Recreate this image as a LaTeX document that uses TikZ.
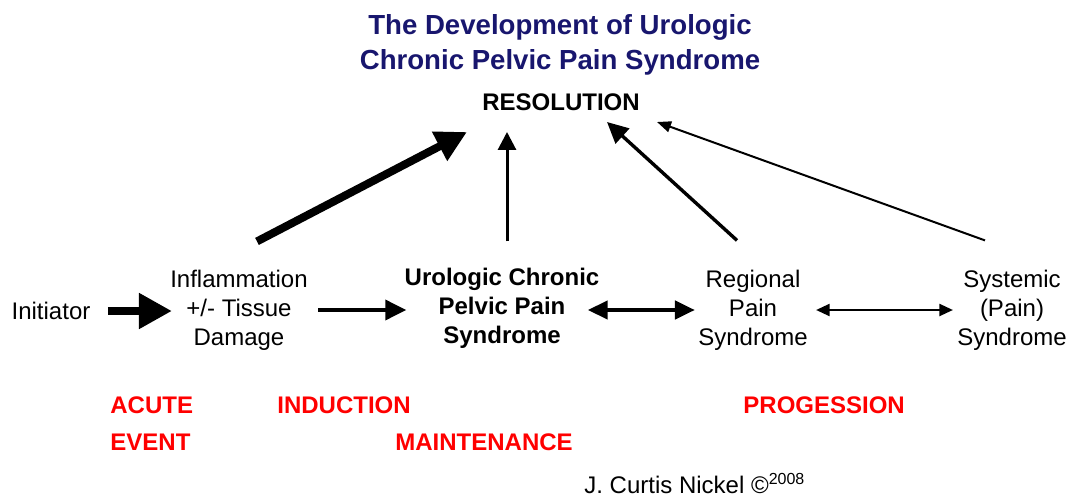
\documentclass[tikz,border=0pt]{standalone}
\usepackage{fontspec}
\setmainfont{Liberation Sans}
\usetikzlibrary{arrows.meta}
\definecolor{titleblue}{RGB}{24,22,110}
\newcommand*{\txtsize}[1][12]{\fontsize{#1}{14.5}\selectfont}

\begin{document}
\begin{tikzpicture}[x=0.5pt, y=-0.5pt]
        \useasboundingbox (0,0) rectangle (1069,497);

        \tikzstyle{heavyarrow}=[line width=4pt, -{Triangle[length=16.5pt, width=17pt]}]
        \tikzstyle{midarrow}=[line width=1.8pt, -{Triangle[length=10.5pt, width=10pt]}]
        \tikzstyle{thinarrow}=[line width=1pt, -{Triangle[length=6.75pt, width=6pt]}]

        \node [text=titleblue, align=center, font=\bfseries\fontsize{13.8}{17.5}\selectfont]
          (title) at (560,45) {The Development of Urologic\\Chronic Pelvic Pain Syndrome};
        \node [inner sep=0pt, font=\bfseries\txtsize] (res) at (561,102) {RESOLUTION};

        {\tikzstyle{every node}=[align=center, inner sep=0pt, font=\txtsize]
          \node (init) at (51,311) {Initiator};
          \node (infl) at (239,310) {Inflammation\\+/- Tissue\\Damage};
          \node [font=\bfseries\txtsize] (ucpps) at (502,308) {Urologic Chronic\\Pelvic Pain\\Syndrome};
          \node (regional) at (753,310) {Regional\\Pain\\Syndrome};
          \node (systemic) at (1012,310) {Systemic\\(Pain)\\Syndrome};
        }

        {\tikzstyle{every node}=[anchor=west, inner sep=0pt, text=red, font=\bfseries\txtsize]
          \node (acute) at (110,405) {ACUTE};
          \node (event) at (110,442) {EVENT};
          \node (induction) at (277,405) {INDUCTION};
          \node (maint) at (395,442) {MAINTENANCE};
          \node (progr) at (743,405) {PROGESSION};
        }

        \node [anchor=base west, inner sep=0pt, font=\txtsize] (author) at (584,493)
          {J. Curtis Nickel ©\textsuperscript{2008}};

        % ends of the arrows at RESOLUTION
        \coordinate (r0) at (467,132);
        \coordinate (r1) at (507,132);
        \coordinate (r2) at (607,122);
        \coordinate (r3) at (657,122);

        \draw [heavyarrow, shorten <=8.5pt, shorten >=-1pt] (init.east) -- (init.east -| infl.west);
        \draw [midarrow, shorten <=5pt, shorten >=-1pt] (infl.east) -- (infl.east -| ucpps.west);
        \draw [line width=2.2pt, {Triangle[length=10pt, width=9pt]}-{Triangle[length=10pt, width=9pt]},
          shorten <=-6pt, shorten >=1.5pt] (infl.east -| ucpps.east) -- (infl.east -| regional.west);
        \draw [thinarrow, {Triangle[length=6.75pt, width=6pt]}-{Triangle[length=6.75pt, width=6pt]},
          shorten <=4pt, shorten >=2pt] (regional.east) -- (systemic.west);

        \draw [heavyarrow, -{Triangle[length=15.5pt, width=15.5pt]}] ([shift={(18,-28)}]infl.north) -- (r0);
        \draw [midarrow, line width=1.5pt, -{Triangle[length=9pt, width=9pt]}] ([shift={(5,-26)}]ucpps.north) -- (r1);
        \draw [midarrow, line width=1.7pt] ([shift={(-16,-29)}]regional.north) -- (r2);
        \draw [thinarrow, -{Triangle[length=7pt, width=5.5pt]}] ([shift={(-27,-29)}]systemic.north) -- (r3);
\end{tikzpicture}
\end{document}
